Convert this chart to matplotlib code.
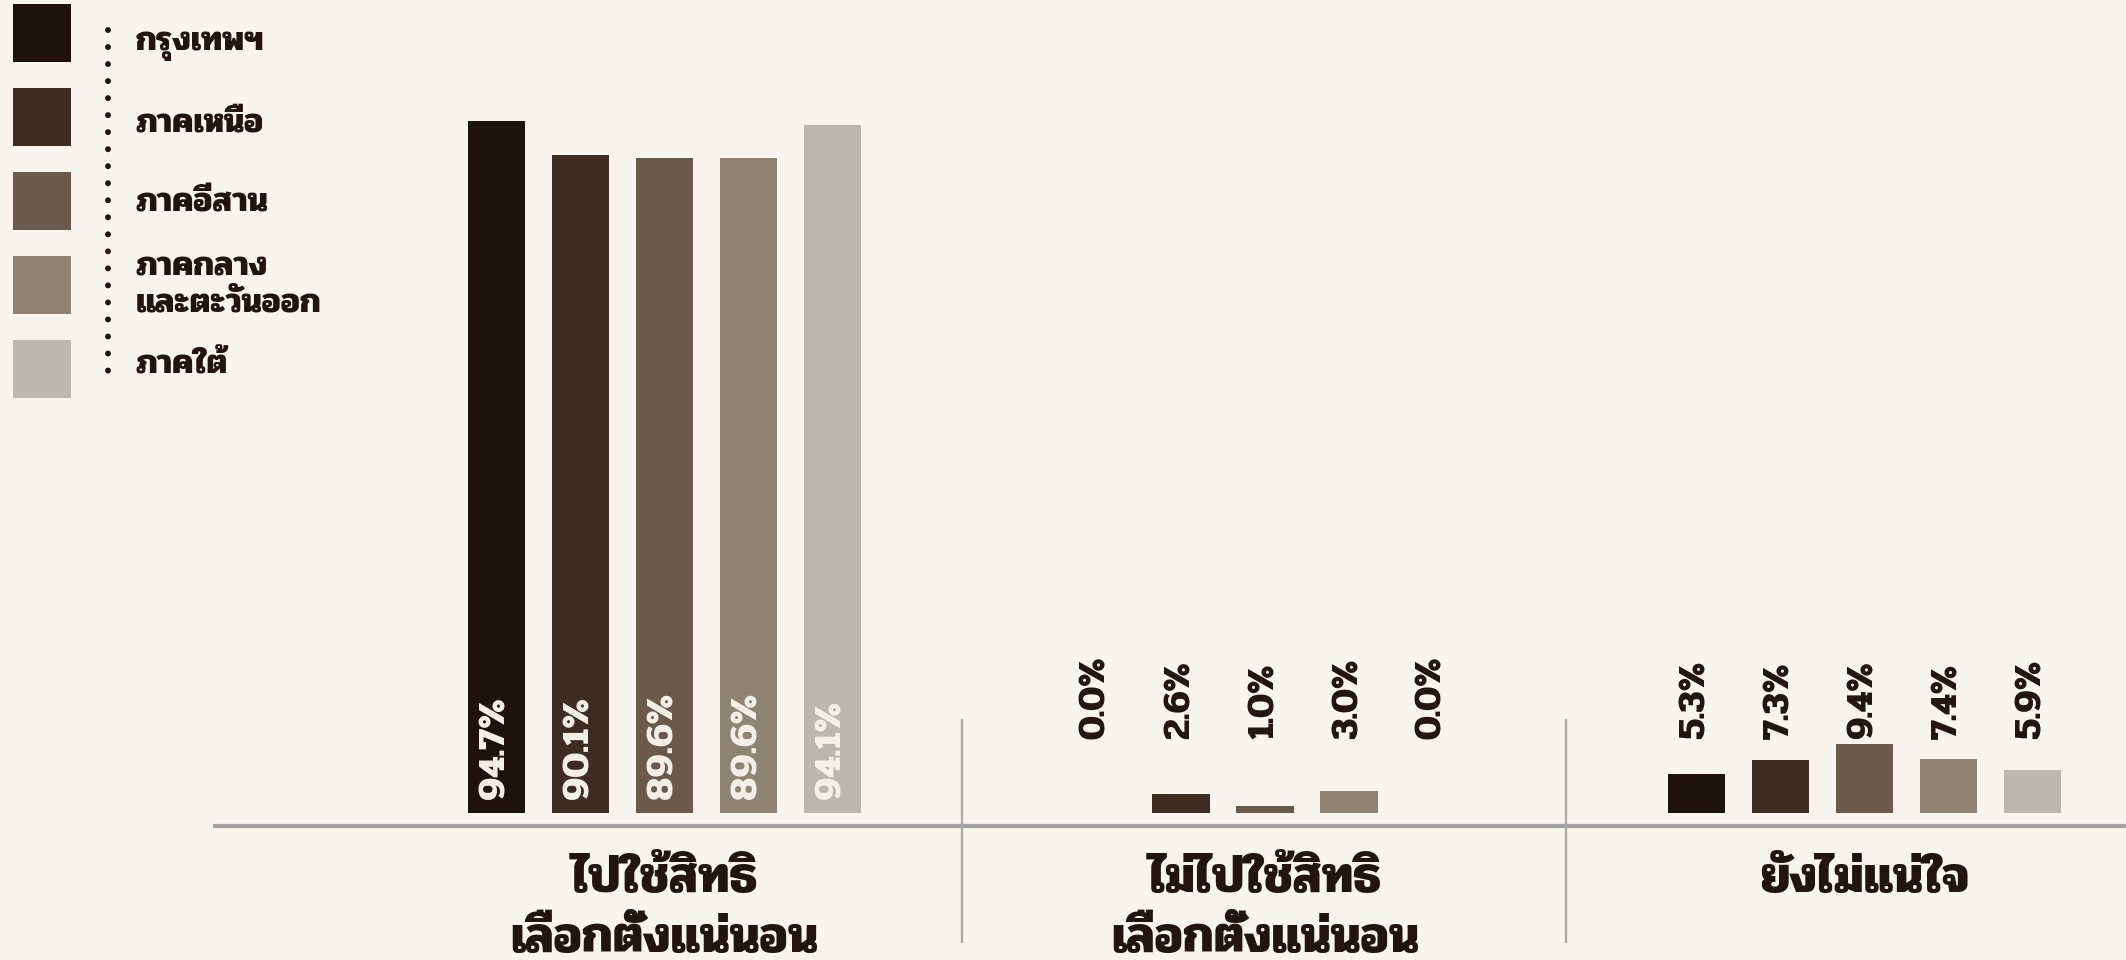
import matplotlib
matplotlib.use("Agg")
import matplotlib.pyplot as plt
from matplotlib.patches import Rectangle

plt.rcParams['font.family'] = ['Pridi', 'DejaVu Sans']
plt.rcParams['font.weight'] = 'bold'

# data
regions = ['กรุงเทพฯ', 'ภาคเหนือ', 'ภาคอีสาน', 'ภาคกลาง\nและตะวันออก', 'ภาคใต้']
groups = ['ไปใช้สิทธิ\nเลือกตั้งแน่นอน', 'ไม่ไปใช้สิทธิ\nเลือกตั้งแน่นอน', 'ยังไม่แน่ใจ']
will_vote = [94.7, 90.1, 89.6, 89.6, 94.1]
wont_vote = [0.0, 2.6, 1.0, 3.0, 0.0]
not_sure = [5.3, 7.3, 9.4, 7.4, 5.9]
values = [will_vote, wont_vote, not_sure]

colors = ['#1e130b', '#3e2c22', '#6b5a4b', '#8f8373', '#b9b8b3']
bg = '#f8f4ee'
ink = '#22150d'

# layout (pixels of a 2126x960 canvas)
W, H = 2126, 960
base_px = 813
px_per = 692 / 94.7
group_center = [664.5, 1265, 1864.5]
pitch = 84
width = 57.5

fig = plt.figure(figsize=(W / 100, H / 100), dpi=100, facecolor=bg)
ax = fig.add_axes([0, 0, 1, 1])
ax.set_facecolor(bg)
ax.set_xlim(0, W)
ax.set_ylim(-(H - base_px) / px_per, base_px / px_per)
ax.axis('off')


def v(px):
    # canvas pixel row -> value
    return (base_px - px) / px_per


for g, vals in enumerate(values):
    xs = [group_center[g] + (i - 2) * pitch for i in range(len(vals))]
    ax.bar(xs, vals, width=width, color=colors, linewidth=0)
    for x, val in zip(xs, vals):
        if g == 0:
            ax.text(x, v(799), f'{val:.1f}%', rotation=90, ha='center', va='bottom',
                    color='#f6f1e8', fontsize=28, fontweight='bold')
        else:
            ax.text(x, v(739), f'{val:.1f}%', rotation=90, ha='center', va='bottom',
                    color=ink, fontsize=27, fontweight='bold')
    for k, line in enumerate(groups[g].split('\n')):
        ax.text(group_center[g], v(880 + 60 * k), line, ha='center', va='center',
                color=ink, fontsize=37, fontweight='bold')

# baseline and dividers
ax.plot([213, W], [v(826), v(826)], color='#a2a2a2', lw=3, solid_capstyle='butt')
for xd in [962, 1566]:
    ax.plot([xd, xd], [v(720), v(942)], color='#a9a9a9', lw=1.6)

# legend
lg = fig.add_axes([0, 0, 1, 1])
lg.set_xlim(0, W)
lg.set_ylim(H, 0)
lg.axis('off')
for i, (name, c) in enumerate(zip(regions, colors)):
    top = 4 + 84 * i
    lg.add_patch(Rectangle((13, top), 58, 58, color=c, lw=0))
    lines = name.split('\n')
    base = top + 46 - 3 * i
    if len(lines) == 2:
        ys = [base - 18, base + 18]
    else:
        ys = [base]
    for line, y in zip(lines, ys):
        lg.text(136, y, line, ha='left', va='baseline', color=ink,
                fontsize=25, fontweight='bold')
lg.plot([108, 108], [30, 377], color=ink, lw=4.3,
        linestyle=(0, (0.001, 2.85)), dash_capstyle='round')

fig.savefig('out.png', dpi=100, facecolor=bg)
